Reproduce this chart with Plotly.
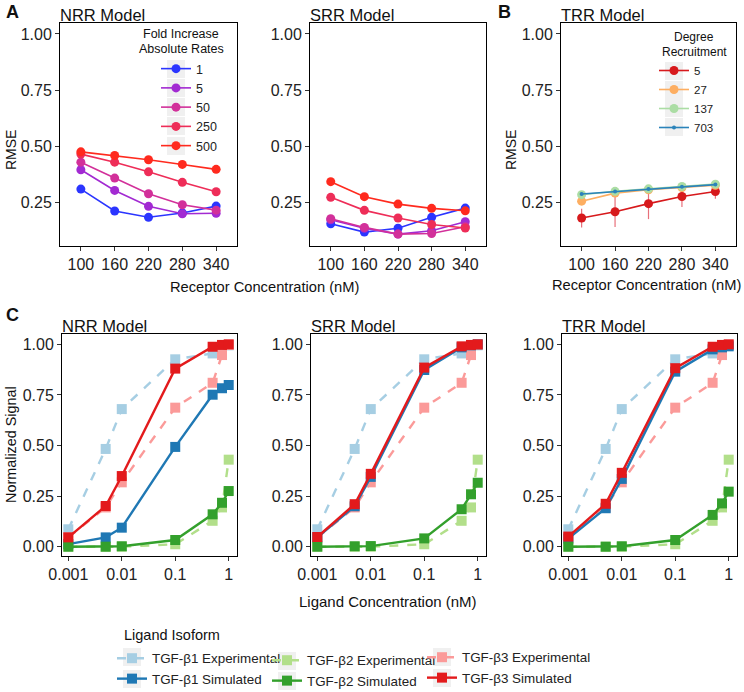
import plotly.graph_objects as go

# ---------------- data ----------------
receptor_conc = [100, 160, 220, 280, 340]

# Panel A - NRR model RMSE by fold increase of absolute rates
nrr_fold_1 = [0.308, 0.210, 0.182, 0.201, 0.232]
nrr_fold_5 = [0.394, 0.302, 0.231, 0.198, 0.200]
nrr_fold_50 = [0.428, 0.357, 0.287, 0.238, 0.214]
nrr_fold_250 = [0.464, 0.428, 0.385, 0.338, 0.296]
nrr_fold_500 = [0.474, 0.458, 0.439, 0.418, 0.396]

# Panel A - SRR model RMSE
srr_fold_1 = [0.153, 0.116, 0.133, 0.182, 0.223]
srr_fold_5 = [0.171, 0.133, 0.107, 0.122, 0.162]
srr_fold_50 = [0.176, 0.137, 0.107, 0.110, 0.140]
srr_fold_250 = [0.271, 0.213, 0.179, 0.150, 0.134]
srr_fold_500 = [0.341, 0.274, 0.241, 0.222, 0.211]

fold_labels = ["1", "5", "50", "250", "500"]

# Panel B - TRR model RMSE by degree of recruitment
trr_deg_5 = [0.179, 0.207, 0.243, 0.275, 0.297]
trr_deg_5_err_plus = [0.041, 0.068, 0.062, 0.045, 0.015]
trr_deg_5_err_minus = [0.042, 0.068, 0.069, 0.047, 0.032]
trr_deg_27 = [0.254, 0.290, 0.305, 0.315, 0.325]
trr_deg_137 = [0.283, 0.298, 0.309, 0.320, 0.330]
trr_deg_703 = [0.286, 0.297, 0.308, 0.318, 0.328]
degree_labels = ["5", "27", "137", "703"]

# Panel C - dose response
ligand_conc = [0.001, 0.005, 0.01, 0.1, 0.5, 0.75, 1]
tgfb1_exp = [0.086, 0.483, 0.680, 0.926, 0.955, 0.975, 0.995]
tgfb2_exp = [0.000, 0.000, 0.000, 0.012, 0.128, 0.194, 0.430]
tgfb3_exp = [0.046, 0.194, 0.318, 0.687, 0.810, 0.947, 0.997]

nrr_tgfb1_sim = [0.013, 0.046, 0.094, 0.493, 0.751, 0.783, 0.799]
nrr_tgfb2_sim = [0.000, 0.000, 0.002, 0.033, 0.160, 0.217, 0.275]
nrr_tgfb3_sim = [0.046, 0.201, 0.349, 0.880, 0.988, 0.997, 1.000]

srr_tgfb1_sim = [0.046, 0.200, 0.345, 0.873, 0.985, 0.995, 1.000]
srr_tgfb2_sim = [0.000, 0.002, 0.003, 0.041, 0.185, 0.259, 0.316]
srr_tgfb3_sim = [0.048, 0.210, 0.360, 0.885, 0.990, 0.997, 1.000]

trr_tgfb1_sim = [0.040, 0.190, 0.335, 0.865, 0.975, 0.985, 0.990]
trr_tgfb2_sim = [0.000, 0.000, 0.002, 0.033, 0.157, 0.214, 0.272]
trr_tgfb3_sim = [0.050, 0.212, 0.365, 0.882, 0.988, 0.997, 1.000]

# ---------------- style ----------------
FONT = "Liberation Sans, Arial, sans-serif"
W, H = 744, 692
fold_colors = ["#2b35ff", "#a22ad2", "#d2309a", "#ee2d58", "#ff2a1e"]
degree_colors = ["#d7191c", "#fdae61", "#abdda4", "#2b83ba"]
iso_light = ["#a6cee3", "#b2df8a", "#fb9a99"]
iso_dark = ["#1f78b4", "#33a02c", "#e31a1c"]


def dx(a, b):
    return [a / W, b / W]


def dy(top, bottom):
    return [1 - bottom / H, 1 - top / H]


fig = go.Figure()

# ---- Panel A ----
nrr_series = [nrr_fold_1, nrr_fold_5, nrr_fold_50, nrr_fold_250, nrr_fold_500]
srr_series = [srr_fold_1, srr_fold_5, srr_fold_50, srr_fold_250, srr_fold_500]
for i, (lab, ys) in enumerate(zip(fold_labels, nrr_series)):
    fig.add_trace(go.Scatter(x=receptor_conc, y=ys, mode="lines+markers", name=lab,
                             line=dict(color=fold_colors[i], width=1.6),
                             marker=dict(color=fold_colors[i], size=9),
                             xaxis="x", yaxis="y", legend="legend", showlegend=True))
for i, (lab, ys) in enumerate(zip(fold_labels, srr_series)):
    fig.add_trace(go.Scatter(x=receptor_conc, y=ys, mode="lines+markers", name=lab,
                             line=dict(color=fold_colors[i], width=1.6),
                             marker=dict(color=fold_colors[i], size=9),
                             xaxis="x2", yaxis="y2", showlegend=False))

# ---- Panel B ----
fig.add_trace(go.Scatter(x=receptor_conc, y=trr_deg_5, mode="lines+markers", name=degree_labels[0],
                         line=dict(color=degree_colors[0], width=1.6),
                         marker=dict(color=degree_colors[0], size=9),
                         error_y=dict(type="data", array=trr_deg_5_err_plus,
                                      arrayminus=trr_deg_5_err_minus, color="#e8707a",
                                      thickness=1.2, width=0),
                         xaxis="x3", yaxis="y3", legend="legend2"))
for i, ys in enumerate([trr_deg_27, trr_deg_137]):
    fig.add_trace(go.Scatter(x=receptor_conc, y=ys, mode="lines+markers", name=degree_labels[i + 1],
                             line=dict(color=degree_colors[i + 1], width=1.6),
                             marker=dict(color=degree_colors[i + 1], size=9),
                             xaxis="x3", yaxis="y3", legend="legend2"))
fig.add_trace(go.Scatter(x=receptor_conc, y=trr_deg_703, mode="lines+markers", name=degree_labels[3],
                         line=dict(color=degree_colors[3], width=1.6),
                         marker=dict(color=degree_colors[3], size=4),
                         xaxis="x3", yaxis="y3", legend="legend2"))

# ---- Panel C ----
exp_series = [tgfb1_exp, tgfb2_exp, tgfb3_exp]
sim_sets = [
    ("x4", "y4", [nrr_tgfb1_sim, nrr_tgfb2_sim, nrr_tgfb3_sim]),
    ("x5", "y5", [srr_tgfb1_sim, srr_tgfb2_sim, srr_tgfb3_sim]),
    ("x6", "y6", [trr_tgfb1_sim, trr_tgfb2_sim, trr_tgfb3_sim]),
]
legend_cols = ["legend3", "legend4", "legend5"]
for p, (xa, ya, sims) in enumerate(sim_sets):
    for k in range(3):
        fig.add_trace(go.Scatter(x=ligand_conc, y=exp_series[k], mode="lines+markers",
                                 name=f"TGF-β{k + 1} Experimental",
                                 line=dict(color=iso_light[k], width=2.4, dash="dash"),
                                 marker=dict(color=iso_light[k], size=10, symbol="square"),
                                 xaxis=xa, yaxis=ya, legend=legend_cols[k],
                                 showlegend=(p == 0)))
    for k in range(3):
        fig.add_trace(go.Scatter(x=ligand_conc, y=sims[k], mode="lines+markers",
                                 name=f"TGF-β{k + 1} Simulated",
                                 line=dict(color=iso_dark[k], width=2.4),
                                 marker=dict(color=iso_dark[k], size=10, symbol="square"),
                                 xaxis=xa, yaxis=ya, legend=legend_cols[k],
                                 showlegend=(p == 0)))

# ---------------- axes ----------------
base = dict(showline=True, mirror=True, linecolor="black", linewidth=1,
            ticks="outside", ticklen=4, tickcolor="#333333", showgrid=False,
            zeroline=False, automargin=False,
            tickfont=dict(family=FONT, size=16, color="#222222"))

top_y = dict(range=[0.054, 1.049], tickvals=[0.25, 0.5, 0.75, 1.0],
             ticktext=["0.25", "0.50", "0.75", "1.00"], **base)
top_x = dict(range=[63, 377], tickvals=receptor_conc, **base)
bot_y = dict(range=[-0.046, 1.051], tickvals=[0, 0.25, 0.5, 0.75, 1.0],
             ticktext=["0.00", "0.25", "0.50", "0.75", "1.00"], **base)
bot_x = dict(type="log", range=[-3.118, 0.155], tickvals=[0.001, 0.01, 0.1, 1],
             ticktext=["0.001", "0.01", "0.1", "1"], **base)

fig.update_layout(
    xaxis=dict(domain=dx(60, 237), anchor="y", **top_x),
    yaxis=dict(domain=dy(23, 246), anchor="x", **top_y),
    xaxis2=dict(domain=dx(310, 486), anchor="y2", **top_x),
    yaxis2=dict(domain=dy(23, 246), anchor="x2", **top_y),
    xaxis3=dict(domain=dx(561, 736), anchor="y3", **top_x),
    yaxis3=dict(domain=dy(23, 246), anchor="x3", **top_y),
    xaxis4=dict(domain=dx(62, 237), anchor="y4", **bot_x),
    yaxis4=dict(domain=dy(334, 556), anchor="x4", **bot_y),
    xaxis5=dict(domain=dx(311, 486), anchor="y5", **bot_x),
    yaxis5=dict(domain=dy(334, 556), anchor="x5", **bot_y),
    xaxis6=dict(domain=dx(562, 737), anchor="y6", **bot_x),
    yaxis6=dict(domain=dy(334, 556), anchor="x6", **bot_y),
)


def leg(x, y, size):
    return dict(x=x / W, y=1 - y / H, bgcolor="rgba(0,0,0,0)", borderwidth=0,
                orientation="v", font=dict(family=FONT, size=size, color="#222222"),
                xanchor="left", yanchor="top", itemclick=False, tracegroupgap=0)


fig.update_layout(
    legend=leg(156, 54, 12.5),
    legend2=leg(654, 56, 11.5),
    legend3=leg(112, 643, 13.4),
    legend4=leg(267, 645, 13.4),
    legend5=leg(422, 642, 13.4),
)

# light grey legend-key backgrounds (ggplot style)
key_boxes = [(176, 69), (176, 88), (176, 107), (176, 126), (176, 146),
             (674, 71), (674, 90), (674, 108), (674, 127),
             (132, 657), (132, 679), (287, 661), (287, 681), (442, 657), (442, 678)]
shapes = []
for cx, cy in key_boxes:
    shapes.append(dict(type="rect", xref="paper", yref="paper", layer="below",
                       x0=(cx - 9) / W, x1=(cx + 9) / W,
                       y0=1 - (cy + 9) / H, y1=1 - (cy - 9) / H,
                       fillcolor="#f0f0f0", line=dict(width=0)))

# ---------------- text ----------------
ann = []


def txt(x, y, s, size=14, xanchor="left", yanchor="middle", angle=0, bold=False, color="#111111"):
    ann.append(dict(x=x / W, y=1 - y / H, xref="paper", yref="paper", text=(f"<b>{s}</b>" if bold else s),
                    showarrow=False, xanchor=xanchor, yanchor=yanchor, textangle=angle,
                    font=dict(family=FONT, size=size, color=color)))


txt(4, 12, "A", size=18, bold=True)
txt(496, 12, "B", size=18, bold=True)
txt(4, 315, "C", size=18, bold=True)
txt(58, 15, "NRR Model", size=16.5)
txt(308, 15, "SRR Model", size=16.5)
txt(559, 15, "TRR Model", size=16.5)
txt(60, 326, "NRR Model", size=16.5)
txt(309, 326, "SRR Model", size=16.5)
txt(560, 326, "TRR Model", size=16.5)
txt(181, 34, "Fold Increase", size=12.5, xanchor="center")
txt(181, 49, "Absolute Rates", size=12.5, xanchor="center")
txt(694, 37, "Degree", size=12, xanchor="center")
txt(694, 52, "Recruitment", size=12, xanchor="center")
txt(264, 287, "Receptor Concentration (nM)", size=14.7, xanchor="center")
txt(646, 285, "Receptor Concentration (nM)", size=14.7, xanchor="center")
txt(388, 601, "Ligand Concentration (nM)", size=15, xanchor="center")
txt(11, 150, "RMSE", size=14, xanchor="center", angle=-90)
txt(511, 150, "RMSE", size=14, xanchor="center", angle=-90)
txt(11, 445, "Normalized Signal", size=14.4, xanchor="center", angle=-90)
txt(122, 635, "Ligand Isoform", size=14.5)

fig.update_layout(annotations=ann, shapes=shapes, width=W, height=H,
                  margin=dict(l=0, r=0, t=0, b=0, autoexpand=False),
                  paper_bgcolor="white", plot_bgcolor="white",
                  font=dict(family=FONT))

fig.write_html("out.html", config={"displayModeBar": False},
               post_script="document.body.style.margin='0';document.body.style.overflow='hidden';")
